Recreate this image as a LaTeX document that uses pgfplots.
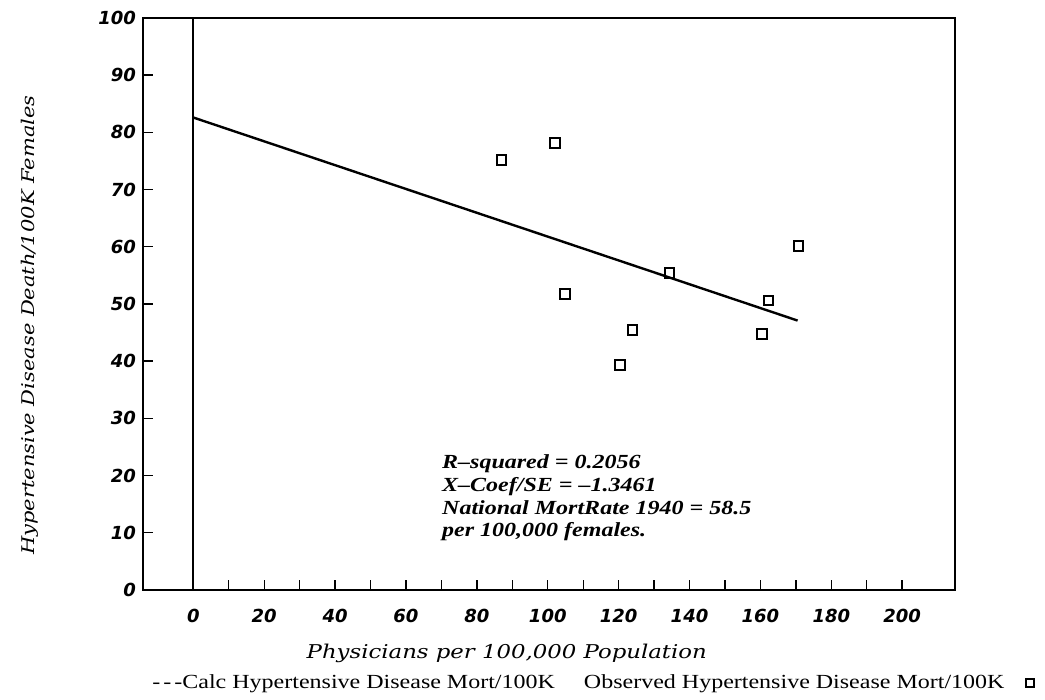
\documentclass[border=0pt]{standalone}
\usepackage{fontspec}
\setmainfont{Liberation Serif}
\newfontfamily\tickfont{DejaVu Sans}
\newfontfamily\labfont[FakeStretch=1.2]{DejaVu Serif}
\newfontfamily\legfont[FakeStretch=1.2]{Liberation Serif}
\newfontfamily\annfont[FakeStretch=1.2]{Liberation Serif}
\usepackage{pgfplots}
\pgfplotsset{compat=1.18}

\begin{document}
\begin{tikzpicture}
\useasboundingbox (-71.5pt,-55pt) rectangle (451pt,295pt);
\begin{axis}[
  scale only axis, width=406pt, height=286pt,
  xmin=-14.2, xmax=214.9, ymin=0, ymax=100,
  axis line style={line width=0.8pt},
  xtick pos=bottom, ytick pos=left, tick align=inside,
  xtick={0,20,...,200}, minor xtick={10,30,...,190},
  ytick={0,10,...,100},
  major tick length=5pt, minor tick length=5pt,
  every tick/.style={black, line width=0.7pt},
  /pgf/number format/assume math mode=true,
  ticklabel style={font=\tickfont\bfseries\itshape\fontsize{9}{9}\selectfont},
  xticklabel style={yshift=-6pt},
  legend plot pos=right,
  legend columns=2,
  legend style={draw=none, fill=none, at={(0.0062,-0.1626)}, anchor=west,
    font=\legfont\fontsize{10}{10}\selectfont, inner sep=0pt,
    /tikz/every even column/.append style={column sep=2pt},
    /tikz/every odd column/.append style={column sep=8.5pt}},
  clip=false,
]
\addplot[black, line width=0.9pt, forget plot] coordinates {(0,0) (0,100)};
\addplot[black, line width=1.2pt, legend image code/.code={}] coordinates {(0,82.6) (170.5,47.1)};
\addlegendentry{-\kern1.5pt-\kern1.5pt-Calc Hypertensive Disease Mort/100K}
\addplot[only marks, mark=square, mark size=2.4pt, mark options={line width=1pt, black},
  legend image post style={xshift=14pt, mark size=2pt}] coordinates {
(87.0,75.2) (102.1,78.1) (104.9,51.7) (120.4,39.3) (123.9,45.5)
(134.3,55.4) (160.4,44.8) (162.3,50.6) (170.7,60.1)};
\addlegendentry{Observed Hypertensive Disease Mort/100K}

\node[anchor=base west, inner sep=0pt, font=\annfont\bfseries\itshape\fontsize{10}{10}\selectfont] at (rel axis cs:0.368,0.2124) {R\textendash squared = 0.2056};
\node[anchor=base west, inner sep=0pt, font=\annfont\bfseries\itshape\fontsize{10}{10}\selectfont] at (rel axis cs:0.368,0.1722) {X\textendash Coef/SE = \textendash 1.3461};
\node[anchor=base west, inner sep=0pt, font=\annfont\bfseries\itshape\fontsize{10}{10}\selectfont] at (rel axis cs:0.368,0.1320) {National MortRate 1940 = 58.5};
\node[anchor=base west, inner sep=0pt, font=\annfont\bfseries\itshape\fontsize{10}{10}\selectfont] at (rel axis cs:0.368,0.0935) {per 100,000 females.};

\node[inner sep=0pt, font=\labfont\itshape\fontsize{9.5}{9.5}\selectfont] at (rel axis cs:0.448,-0.110) {Physicians per 100,000 Population};
\node[inner sep=0pt, rotate=90, font=\labfont\itshape\fontsize{8.75}{8.75}\selectfont] at (rel axis cs:-0.139,0.463) {Hypertensive Disease Death/100K Females};
\end{axis}
\end{tikzpicture}
\end{document}
